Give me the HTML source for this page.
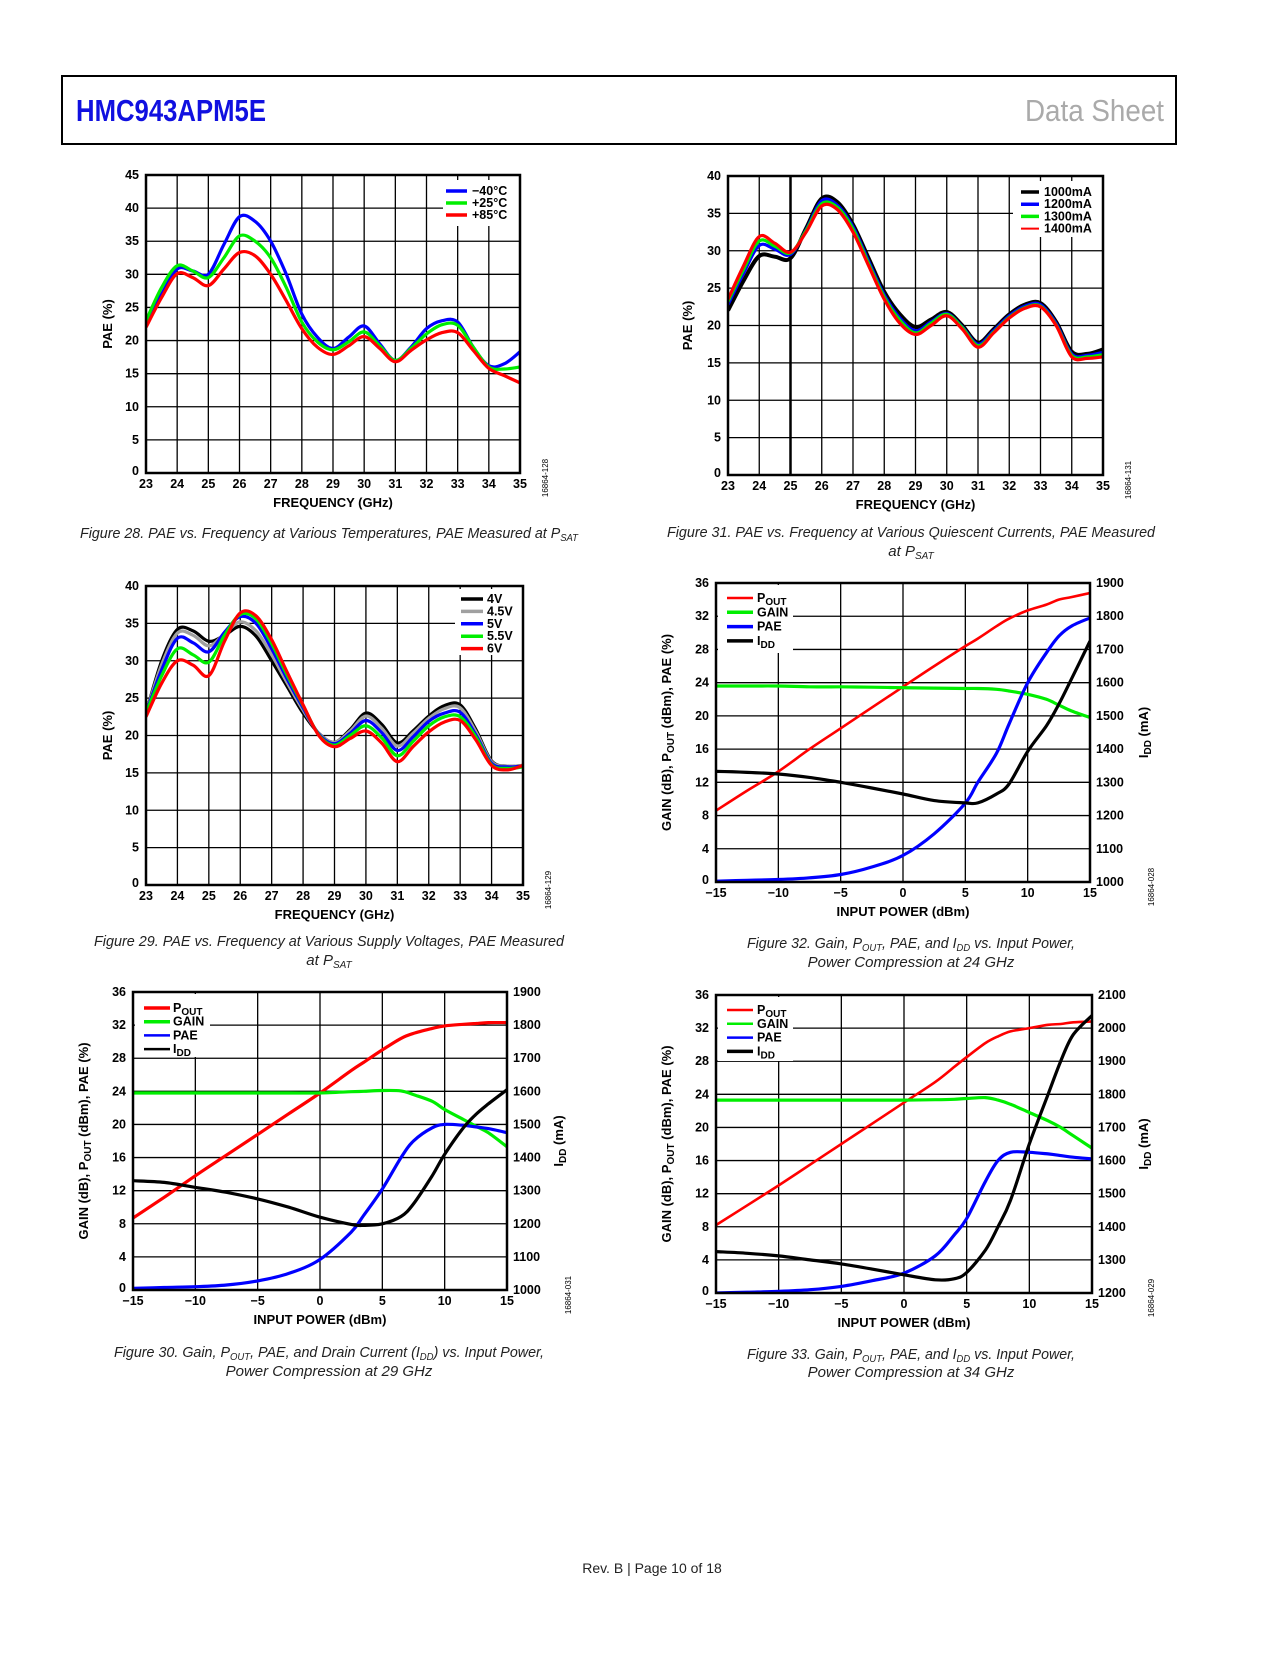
<!DOCTYPE html>
<html><head><meta charset="utf-8"><style>
html,body{margin:0;padding:0;background:#fff;}
svg text{font-family:"Liberation Sans",sans-serif;}
.tk{font-size:12.5px;font-weight:bold;fill:#000;}
.at{font-size:13px;font-weight:bold;fill:#000;}
.cap{font-size:15px;font-style:italic;fill:#222;}
.lg{font-size:12.5px;font-weight:bold;fill:#000;}
.code{font-size:8px;fill:#000;}
</style></head><body>
<svg id="page" width="1275" height="1650" viewBox="0 0 1275 1650" xmlns="http://www.w3.org/2000/svg">
<rect x="62" y="76" width="1114" height="68" fill="none" stroke="#000" stroke-width="2"/>
<text x="76" y="121" textLength="190" lengthAdjust="spacingAndGlyphs" style="font-family:'Liberation Sans Narrow','Liberation Sans',sans-serif;font-weight:bold;font-size:31px;fill:#1010e0">HMC943APM5E</text>
<text x="1025" y="121" textLength="139" lengthAdjust="spacingAndGlyphs" style="font-family:'Liberation Sans Narrow','Liberation Sans',sans-serif;font-size:31px;fill:#aaa">Data Sheet</text>
<text x="652" y="1573" text-anchor="middle" style="font-size:14px;fill:#222">Rev. B | Page 10 of 18</text>

<text class="cap" x="329" y="538" text-anchor="middle" textLength="498" lengthAdjust="spacingAndGlyphs">Figure 28. PAE vs. Frequency at Various Temperatures, PAE Measured at P<tspan font-size="10" dy="3">SAT</tspan></text>
<text class="cap" x="911" y="537" text-anchor="middle" textLength="488" lengthAdjust="spacingAndGlyphs">Figure 31. PAE vs. Frequency at Various Quiescent Currents, PAE Measured</text>
<text class="cap" x="911" y="556" text-anchor="middle">at P<tspan font-size="10" dy="3">SAT</tspan></text>
<text class="cap" x="329" y="946" text-anchor="middle" textLength="470" lengthAdjust="spacingAndGlyphs">Figure 29. PAE vs. Frequency at Various Supply Voltages, PAE Measured</text>
<text class="cap" x="329" y="965" text-anchor="middle">at P<tspan font-size="10" dy="3">SAT</tspan></text>
<text class="cap" x="911" y="948" text-anchor="middle" textLength="328" lengthAdjust="spacingAndGlyphs">Figure 32. Gain, P<tspan font-size="10" dy="3">OUT</tspan><tspan dy="-3">, PAE, and I</tspan><tspan font-size="10" dy="3">DD</tspan><tspan dy="-3"> vs. Input Power,</tspan></text>
<text class="cap" x="911" y="967" text-anchor="middle">Power Compression at 24 GHz</text>
<text class="cap" x="329" y="1357" text-anchor="middle" textLength="430" lengthAdjust="spacingAndGlyphs">Figure 30. Gain, P<tspan font-size="10" dy="3">OUT</tspan><tspan dy="-3">, PAE, and Drain Current (I</tspan><tspan font-size="10" dy="3">DD</tspan><tspan dy="-3">) vs. Input Power,</tspan></text>
<text class="cap" x="329" y="1376" text-anchor="middle">Power Compression at 29 GHz</text>
<text class="cap" x="911" y="1359" text-anchor="middle" textLength="328" lengthAdjust="spacingAndGlyphs">Figure 33. Gain, P<tspan font-size="10" dy="3">OUT</tspan><tspan dy="-3">, PAE, and I</tspan><tspan font-size="10" dy="3">DD</tspan><tspan dy="-3"> vs. Input Power,</tspan></text>
<text class="cap" x="911" y="1377" text-anchor="middle">Power Compression at 34 GHz</text>
</svg>
<script>
// ---------- Data ----------
const freqX = [23,23.5,24,24.5,25,25.5,26,26.5,27,27.5,28,28.5,29,29.5,30,30.5,31,31.5,32,32.5,33,33.5,34,34.5,35];
const freqTicks = ['23','24','25','26','27','28','29','30','31','32','33','34','35'];
const pae45Ticks = ['0','5','10','15','20','25','30','35','40','45'];
const pae40Ticks = ['0','5','10','15','20','25','30','35','40'];
const pwrTicks = ['\u221215','\u221210','\u22125','0','5','10','15'];
const leftPwrTicks = ['0','4','8','12','16','20','24','28','32','36'];
const idd1900Ticks = ['1000','1100','1200','1300','1400','1500','1600','1700','1800','1900'];
const idd2100Ticks = ['1200','1300','1400','1500','1600','1700','1800','1900','2000','2100'];

// Fig 28
const f28_m40 = [23,27,30.8,30.5,30,34.5,38.7,38,35,30,24,20.5,18.8,20.5,22.2,19.5,17,19,21.8,23,22.8,19,16.2,16.5,18.3];
const f28_p25 = [23,28,31.3,30.5,29.5,32.5,35.8,35,32.5,28,22.8,19.8,18.6,19.8,21.3,19.2,17,18.8,21,22.4,22.3,19,16,15.7,16];
const f28_p85 = [22,26.5,30.1,29.5,28.3,30.8,33.3,32.8,30,26,21.8,19,17.9,19.2,20.6,18.8,16.8,18.5,20.1,21.2,21.2,18.5,15.8,14.7,13.6];
// Fig 29
const f29_4v0 = [23,30,34.2,34,32.6,33.4,34.6,33.3,30,26.5,23,20.3,19.1,20.8,23,21.5,19,20.6,22.6,24,24.1,20.8,16.6,15.9,16];
const f29_4v5 = [23,29.5,33.7,33.4,32,33.6,35.2,34,30.8,27,23.4,20.3,19.1,20.6,22.6,21,18.6,20.3,22.3,23.6,23.7,20.5,16.5,15.9,16];
const f29_5v0 = [23,28.8,33,32.4,31.2,33.8,35.9,35,31.6,27.5,23.7,20.2,18.9,20.3,22,20.4,18,19.8,21.9,23,23.1,20.1,16.3,15.8,15.9];
const f29_5v5 = [23,28,31.6,30.8,29.8,33.4,36.2,35.6,32.3,28,24,20.1,18.7,20,21.3,19.7,17.3,19.2,21.3,22.5,22.5,19.8,16.1,15.6,15.8];
const f29_6v0 = [22.5,27,30,29.4,28,32.6,36.4,36,32.8,28.4,24.1,20,18.5,19.6,20.6,19,16.5,18.5,20.5,21.8,22,19.4,16,15.4,16];
// Fig 31
const f31_1000 = [22,26,29.3,29.2,29,33,37,36.5,33.5,29,24.5,21.5,19.8,20.8,21.8,20,17.7,19.5,21.5,22.8,23,20.5,16.5,16.2,16.8];
const f31_1200 = [22.8,27,30.7,30.2,29.5,32.8,36.7,36.1,33.2,28.6,24.1,21,19.3,20.5,21.6,19.8,17.5,19.3,21.3,22.6,22.8,20.3,16.2,16,16.4];
const f31_1300 = [23.2,27.5,31.3,30.6,29.7,32.7,36.3,35.8,32.9,28.3,23.8,20.7,19,20.3,21.5,19.7,17.3,19.1,21.1,22.4,22.6,20.1,16,15.8,16.1];
const f31_1400 = [23.5,28,31.9,31,29.8,32.5,36,35.5,32.5,28,23.5,20.3,18.8,20,21.3,19.5,17.1,19,21,22.3,22.5,20,15.8,15.6,15.8];
// Fig 30 (29 GHz)
const f30_pin  = [-15,-12.5,-10,-7.5,-5,-2.5,0,2.5,3.5,5,6.5,7.5,9,10,11.5,12.5,13.5,15];
const f30_pout = [8.7,11.2,13.8,16.3,18.8,21.3,23.8,26.5,27.5,29,30.4,31,31.6,31.9,32.1,32.2,32.3,32.3];
const f30_gain = [23.8,23.8,23.8,23.8,23.8,23.8,23.8,23.95,24,24.1,24.05,23.6,22.8,21.8,20.6,19.8,19,17.3];
const f30_pae  = [0.2,0.3,0.4,0.6,1.1,2,3.7,7,9,12.2,16,18,19.6,20,19.9,19.7,19.5,19];
const f30_idd  = [1330,1325,1310,1295,1275,1250,1220,1198,1195,1200,1222,1260,1345,1410,1490,1530,1562,1605];
// Fig 32 (24 GHz)
const f32_pin  = [-15,-12.5,-10,-7.5,-5,-2.5,0,2.5,5,6,7.5,8.5,10,11.5,12.5,13.5,15];
const f32_pout = [8.6,11,13.3,16,18.5,21,23.5,26,28.4,29.3,30.8,31.7,32.7,33.4,34,34.3,34.8];
const f32_gain = [23.6,23.6,23.6,23.5,23.5,23.45,23.4,23.35,23.3,23.3,23.2,23,22.6,22,21.3,20.6,19.8];
const f32_pae  = [0.1,0.2,0.3,0.5,0.9,1.8,3.2,5.8,9.5,12,15.5,19,24,27.6,29.6,30.8,31.8];
const f32_idd  = [1333,1330,1325,1315,1300,1283,1265,1245,1238,1238,1265,1295,1393,1470,1535,1610,1725];
// Fig 33 (34 GHz)
const f33_pin  = [-15,-12.5,-10,-7.5,-5,-2.5,0,2.5,4,5,6.5,7.5,8.5,10,11.5,12.5,13.5,15];
const f33_pout = [8.2,10.6,13,15.5,18,20.5,23,25.5,27.3,28.5,30.2,31,31.6,32,32.4,32.5,32.7,32.8];
const f33_gain = [23.3,23.3,23.3,23.3,23.3,23.3,23.3,23.35,23.4,23.5,23.6,23.3,22.8,21.8,20.8,20,19,17.5];
const f33_pae  = [0,0.1,0.2,0.4,0.8,1.5,2.4,4.5,7,9,13.5,16,17,17,16.8,16.6,16.4,16.2];
const f33_idd  = [1325,1320,1312,1300,1288,1272,1255,1240,1243,1262,1330,1400,1480,1650,1800,1900,1980,2038];

// ---------- Drawing ----------
const NS = 'http://www.w3.org/2000/svg';
const page = document.getElementById('page');
function mk(tag, attrs, parent){
  const e = document.createElementNS(NS, tag);
  for (const k in attrs) e.setAttribute(k, attrs[k]);
  (parent||page).appendChild(e);
  return e;
}
function smooth(pts){
  let d = 'M' + pts[0][0].toFixed(1) + ',' + pts[0][1].toFixed(1);
  for (let i = 0; i < pts.length - 1; i++){
    const p0 = pts[i-1]||pts[i], p1 = pts[i], p2 = pts[i+1], p3 = pts[i+2]||p2;
    const c1 = [p1[0]+(p2[0]-p0[0])/6, p1[1]+(p2[1]-p0[1])/6];
    const c2 = [p2[0]-(p3[0]-p1[0])/6, p2[1]-(p3[1]-p1[1])/6];
    d += 'C'+c1[0].toFixed(1)+','+c1[1].toFixed(1)+' '+c2[0].toFixed(1)+','+c2[1].toFixed(1)+' '+p2[0].toFixed(1)+','+p2[1].toFixed(1);
  }
  return d;
}
function label(el, lab){
  if (Array.isArray(lab)){
    el.textContent = lab[0];
    const t = document.createElementNS(NS,'tspan');
    t.setAttribute('font-size','10'); t.setAttribute('dy','3');
    t.textContent = lab[1];
    el.appendChild(t);
  } else el.textContent = lab;
}
function chart(c){
  const g = mk('g', {});
  
  
  const xs = v => c.L + (v - c.xmin) / (c.xmax - c.xmin) * (c.R - c.L);
  const ys = v => c.B - (v - c.ymin) / (c.ymax - c.ymin) * (c.B - c.T);
  const yr = v => c.B - (v - c.rmin) / (c.rmax - c.rmin) * (c.B - c.T);
  const nx = c.xticks.length - 1, ny = c.yticks.length - 1;
  for (let i = 1; i < nx; i++){
    const x = c.L + i*(c.R-c.L)/nx;
    const l = mk('line', {x1:x, x2:x, y1:c.T, y2:c.B, stroke:'#000', 'stroke-width': (c.thickX===i?2.5:1.3)}, g);
    
    
  }
  for (let i = 1; i < ny; i++){
    const y = c.B - i*(c.B-c.T)/ny;
    const l = mk('line', {x1:c.L, x2:c.R, y1:y, y2:y, stroke:'#000', 'stroke-width':1.3}, g);
    
    
  }
  c.xticks.forEach((t,i) => {
    const e = mk('text', {x: c.L + i*(c.R-c.L)/nx, y: c.B+15, 'text-anchor':'middle', class:'tk'}, g);
    
    
    e.textContent = t;
  });
  c.yticks.forEach((t,i) => {
    const e = mk('text', {x: c.L-7, y: c.B - i*(c.B-c.T)/ny + 4 - (i===0?2:0), 'text-anchor':'end', class:'tk'}, g);
    
    
    e.textContent = t;
  });
  if (c.rticks) c.rticks.forEach((t,i) => {
    const e = mk('text', {x: c.R+6, y: c.B - i*(c.B-c.T)/ny + 4, 'text-anchor':'start', class:'tk'}, g);
    
    
    e.textContent = t;
  });
  const clipId = c.name + '-clip';
  const cp = mk('clipPath', {id: clipId}, g);
  mk('rect', {x:c.L, y:c.T-3, width:c.R-c.L, height:c.B-c.T+3}, cp);
  const lg = c.legend;
  const lb = mk('rect', {x:lg.bx, y:lg.by, width:lg.bw, height:lg.bh, fill:'#fff'}, g);
  
  
  c.series.forEach(s => {
    const pts = s.x.map((xv,i) => [xs(xv), s.right ? yr(s.y[i]) : ys(s.y[i])]);
    const p = mk('path', {d: smooth(pts), fill:'none', stroke:s.color, 'stroke-width':s.w||3.2, 'clip-path':'url(#'+clipId+')', 'stroke-linejoin':'round'}, g);
    
    
  });
  c.series.forEach((s,i) => {
    const y = lg.y0 + i*lg.dy;
    const l = mk('line', {x1:lg.x1, x2:lg.x2, y1:y, y2:y, stroke:s.color, 'stroke-width':s.lw||3.5}, g);
    
    
    const t = mk('text', {x:lg.tx, y:y+4, class:'lg'}, g);
    
    
    label(t, s.label);
  });
  const fr = mk('rect', {x:c.L, y:c.T, width:c.R-c.L, height:c.B-c.T, fill:'none', stroke:'#000', 'stroke-width':2.5}, g);
  
  
  const xt = mk('text', {x:(c.L+c.R)/2, y:c.B+34, 'text-anchor':'middle', class:'at'}, g);
  
  
  xt.textContent = c.xTitle;
  const yt = mk('text', {x:0, y:0, 'text-anchor':'middle', class:'at', transform:'translate('+c.ytx+','+((c.T+c.B)/2)+') rotate(-90)'}, g);
  
  
  if (c.yTitleSub){
    yt.textContent = 'GAIN (dB), P';
    const a = document.createElementNS(NS,'tspan'); a.setAttribute('font-size','10'); a.setAttribute('dy','3'); a.textContent='OUT'; yt.appendChild(a);
    const b = document.createElementNS(NS,'tspan'); b.setAttribute('dy','-3'); b.textContent=' (dBm), PAE (%)'; yt.appendChild(b);
  } else yt.textContent = c.yTitle;
  if (c.rtx){
    const rt = mk('text', {x:0, y:0, 'text-anchor':'middle', class:'at', transform:'translate('+c.rtx+','+((c.T+c.B)/2)+') rotate(-90)'}, g);
    
    
    rt.textContent = 'I';
    const a = document.createElementNS(NS,'tspan'); a.setAttribute('font-size','10'); a.setAttribute('dy','3'); a.textContent='DD'; rt.appendChild(a);
    const b = document.createElementNS(NS,'tspan'); b.setAttribute('dy','-3'); b.textContent=' (mA)'; rt.appendChild(b);
  }
  const cd = mk('text', {x:0, y:0, 'text-anchor':'middle', class:'code', transform:'translate('+c.codeX+','+(c.B+5)+') rotate(-90)'}, g);
  
  
  cd.textContent = c.code;
}

chart({name:'chart-fig28', L:146, R:520, T:175, B:473, xmin:23, xmax:35, ymin:0, ymax:45,
  xticks:freqTicks, yticks:pae45Ticks, xTitle:'FREQUENCY (GHz)', yTitle:'PAE (%)', ytx:112, codeX:548, code:'16864-128',
  legend:{bx:443, by:180, bw:76, bh:46, x1:446, x2:467, tx:472, y0:191, dy:12},
  series:[
    {key:'minus40c', x:freqX, y:f28_m40, color:'#0000ff', label:'\u221240\u00b0C'},
    {key:'plus25c', x:freqX, y:f28_p25, color:'#00ee00', label:'+25\u00b0C'},
    {key:'plus85c', x:freqX, y:f28_p85, color:'#ff0000', label:'+85\u00b0C'}]});

chart({name:'chart-fig29', L:146, R:523, T:586, B:885, xmin:23, xmax:35, ymin:0, ymax:40,
  xticks:freqTicks, yticks:pae40Ticks, xTitle:'FREQUENCY (GHz)', yTitle:'PAE (%)', ytx:112, codeX:551, code:'16864-129',
  legend:{bx:455, by:589, bw:67, bh:66, x1:461, x2:483, tx:487, y0:599, dy:12.4},
  series:[
    {key:'4v', x:freqX, y:f29_4v0, color:'#000000', label:'4V'},
    {key:'4p5v', x:freqX, y:f29_4v5, color:'#a0a0a0', label:'4.5V'},
    {key:'5v', x:freqX, y:f29_5v0, color:'#0000ff', label:'5V'},
    {key:'5p5v', x:freqX, y:f29_5v5, color:'#00ee00', label:'5.5V'},
    {key:'6v', x:freqX, y:f29_6v0, color:'#ff0000', label:'6V'}]});

chart({name:'chart-fig31', L:728, R:1103, T:176, B:475, xmin:23, xmax:35, ymin:0, ymax:40, thickX:2,
  xticks:freqTicks, yticks:pae40Ticks, xTitle:'FREQUENCY (GHz)', yTitle:'PAE (%)', ytx:692, codeX:1131, code:'16864-131',
  legend:{bx:1013, by:181, bw:89, bh:56, x1:1021, x2:1039, tx:1044, y0:192, dy:12.2},
  series:[
    {key:'1000ma', x:freqX, y:f31_1000, color:'#000000', w:4, label:'1000mA'},
    {key:'1200ma', x:freqX, y:f31_1200, color:'#0000ff', label:'1200mA'},
    {key:'1300ma', x:freqX, y:f31_1300, color:'#00ee00', label:'1300mA'},
    {key:'1400ma', x:freqX, y:f31_1400, color:'#ff0000', label:'1400mA', lw:2}]});

chart({name:'chart-fig32', L:716, R:1090, T:583, B:882, xmin:-15, xmax:15, ymin:0, ymax:36, rmin:1000, rmax:1900,
  xticks:pwrTicks, yticks:leftPwrTicks, rticks:idd1900Ticks, xTitle:'INPUT POWER (dBm)', yTitleSub:true, ytx:671, rtx:1148, codeX:1154, code:'16864-028',
  legend:{bx:718, by:585, bw:75, bh:68, x1:727, x2:753, tx:757, y0:598, dy:14.3},
  series:[
    {key:'pout', x:f32_pin, y:f32_pout, color:'#ff0000', w:2.6, lw:2.5, label:['P','OUT']},
    {key:'gain', x:f32_pin, y:f32_gain, color:'#00ee00', label:'GAIN'},
    {key:'pae', x:f32_pin, y:f32_pae, color:'#0000ff', label:'PAE'},
    {key:'idd', x:f32_pin, y:f32_idd, right:true, color:'#000000', label:['I','DD']}]});

chart({name:'chart-fig30', L:133, R:507, T:992, B:1290, xmin:-15, xmax:15, ymin:0, ymax:36, rmin:1000, rmax:1900,
  xticks:pwrTicks, yticks:leftPwrTicks, rticks:idd1900Ticks, xTitle:'INPUT POWER (dBm)', yTitleSub:true, ytx:88, rtx:563, codeX:571, code:'16864-031',
  legend:{bx:135, by:994, bw:75, bh:63, x1:144, x2:170, tx:173, y0:1008, dy:13.7},
  series:[
    {key:'pout', x:f30_pin, y:f30_pout, color:'#ff0000', label:['P','OUT']},
    {key:'gain', x:f30_pin, y:f30_gain, color:'#00ee00', label:'GAIN'},
    {key:'pae', x:f30_pin, y:f30_pae, color:'#0000ff', lw:2.5, label:'PAE'},
    {key:'idd', x:f30_pin, y:f30_idd, right:true, color:'#000000', lw:2.5, label:['I','DD']}]});

chart({name:'chart-fig33', L:716, R:1092, T:995, B:1293, xmin:-15, xmax:15, ymin:0, ymax:36, rmin:1200, rmax:2100,
  xticks:pwrTicks, yticks:leftPwrTicks, rticks:idd2100Ticks, xTitle:'INPUT POWER (dBm)', yTitleSub:true, ytx:671, rtx:1148, codeX:1154, code:'16864-029',
  legend:{bx:718, by:997, bw:75, bh:64, x1:727, x2:753, tx:757, y0:1010, dy:13.8},
  series:[
    {key:'pout', x:f33_pin, y:f33_pout, color:'#ff0000', w:2.6, lw:2.5, label:['P','OUT']},
    {key:'gain', x:f33_pin, y:f33_gain, color:'#00ee00', lw:2.5, label:'GAIN'},
    {key:'pae', x:f33_pin, y:f33_pae, color:'#0000ff', lw:2.5, label:'PAE'},
    {key:'idd', x:f33_pin, y:f33_idd, right:true, color:'#000000', label:['I','DD']}]});
</script>
</body></html>
